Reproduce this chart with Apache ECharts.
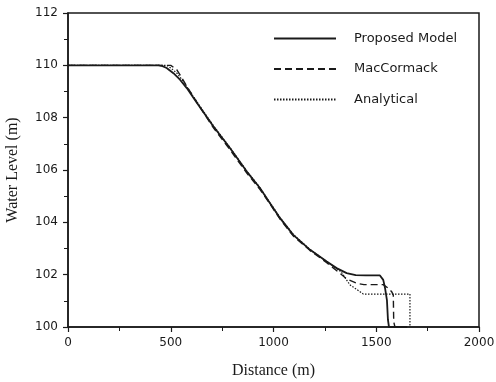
<!DOCTYPE html>
<html>
<head>
<meta charset="utf-8">
<script src="https://cdn.jsdelivr.net/npm/echarts@6/dist/echarts.min.js"></script>
<style>
  html, body { margin: 0; padding: 0; background: #fff; }
  #chart { width: 496px; height: 382px; }
</style>
</head>
<body>
<div id="chart"></div>
<script>
// data
const seriesNames = ["Proposed Model", "MacCormack", "Analytical"];

const proposedX = [0, 440, 460, 480, 513, 545, 578, 626, 707, 788, 870, 934, 983, 1032, 1096, 1178, 1259, 1307, 1356, 1400, 1450, 1518, 1534, 1543, 1552, 1557, 1562, 1650];
const proposedY = [110, 110, 109.97, 109.9, 109.7, 109.45, 109.13, 108.58, 107.67, 106.84, 105.94, 105.31, 104.73, 104.16, 103.52, 102.95, 102.5, 102.25, 102.06, 101.98, 101.97, 101.97, 101.8, 101.48, 101.03, 100.27, 100, 100];

const maccormackX = [0, 500, 529, 545, 578, 626, 707, 788, 870, 934, 983, 1032, 1096, 1178, 1259, 1300, 1356, 1405, 1440, 1534, 1559, 1575, 1583, 1585, 1591, 1650];
const maccormackY = [110, 110, 109.84, 109.64, 109.2, 108.6, 107.62, 106.78, 105.88, 105.26, 104.7, 104.12, 103.48, 102.92, 102.46, 102.2, 101.84, 101.67, 101.62, 101.62, 101.48, 101.35, 101.22, 100.2, 100, 100];

const analyticalX = [0, 480, 500, 530, 560, 626, 707, 788, 870, 934, 983, 1032, 1096, 1178, 1259, 1330, 1372, 1421, 1437, 1664, 1664];
const analyticalY = [110, 110, 109.9, 109.7, 109.4, 108.62, 107.7, 106.86, 105.96, 105.33, 104.75, 104.18, 103.54, 102.96, 102.5, 102.1, 101.61, 101.35, 101.26, 101.26, 100];

const xTicks = { min: 0, max: 2000, interval: 500 };
const yTicks = { min: 100, max: 112, interval: 2 };

function pairs(xs, ys) {
  return xs.map((x, i) => [x, ys[i]]);
}

let myChart = echarts.init(document.getElementById("chart"));
const ink = "#1a1a1a";
const labelFont = { color: ink, fontSize: 12, fontFamily: "DejaVu Sans" };
const nameFont = { color: ink, fontSize: 16, fontFamily: "Liberation Serif" };

let option = {
  backgroundColor: "#fff",
  animation: false,
  grid: {
    left: 68, right: 17, top: 13, bottom: 55,
    outerBoundsMode: "none",
    show: true, borderColor: ink, borderWidth: 1.5,
  },
  legend: {
    orient: "vertical",
    left: 268, top: 27,
    itemWidth: 62, itemHeight: 14, itemGap: 17.5,
    itemStyle: { opacity: 0 },
    textStyle: { color: ink, fontSize: 13, fontFamily: "DejaVu Sans", padding: [0, 0, 0, 13] },
    data: seriesNames,
  },
  xAxis: {
    type: "value",
    min: xTicks.min, max: xTicks.max, interval: xTicks.interval,
    name: "Distance (m)", nameLocation: "middle", nameGap: 36,
    nameTextStyle: nameFont,
    axisLine: { show: true, lineStyle: { color: ink, width: 1.5 } },
    axisTick: { show: true, length: 5, inside: false, lineStyle: { color: ink, width: 1.2 } },
    minorTick: { show: true, splitNumber: 2, length: 4, lineStyle: { color: ink, width: 1 } },
    axisLabel: Object.assign({ margin: 10, formatter: (v) => String(v) }, labelFont),
    splitLine: { show: false },
  },
  yAxis: {
    type: "value",
    min: yTicks.min, max: yTicks.max, interval: yTicks.interval,
    name: "Water Level (m)", nameLocation: "middle", nameGap: 47,
    nameTextStyle: nameFont,
    axisLine: { show: true, lineStyle: { color: ink, width: 1.5 } },
    axisTick: { show: true, length: 5, inside: false, lineStyle: { color: ink, width: 1.2 } },
    minorTick: { show: true, splitNumber: 2, length: 4, lineStyle: { color: ink, width: 1 } },
    axisLabel: Object.assign({ margin: 10 }, labelFont),
    splitLine: { show: false },
  },
  series: [
    {
      name: seriesNames[0], type: "line", symbol: "none",
      data: pairs(proposedX, proposedY),
      lineStyle: { color: ink, width: 1.8, type: "solid" },
      itemStyle: { color: ink },
    },
    {
      name: seriesNames[1], type: "line", symbol: "none",
      data: pairs(maccormackX, maccormackY),
      lineStyle: { color: ink, width: 1.4, type: [7, 4] },
      itemStyle: { color: ink },
    },
    {
      name: seriesNames[2], type: "line", symbol: "none",
      data: pairs(analyticalX, analyticalY),
      lineStyle: { color: ink, width: 1.2, type: [1.5, 1.5] },
      itemStyle: { color: ink },
    },
  ],
};
myChart.setOption(option);
</script>
</body>
</html>
